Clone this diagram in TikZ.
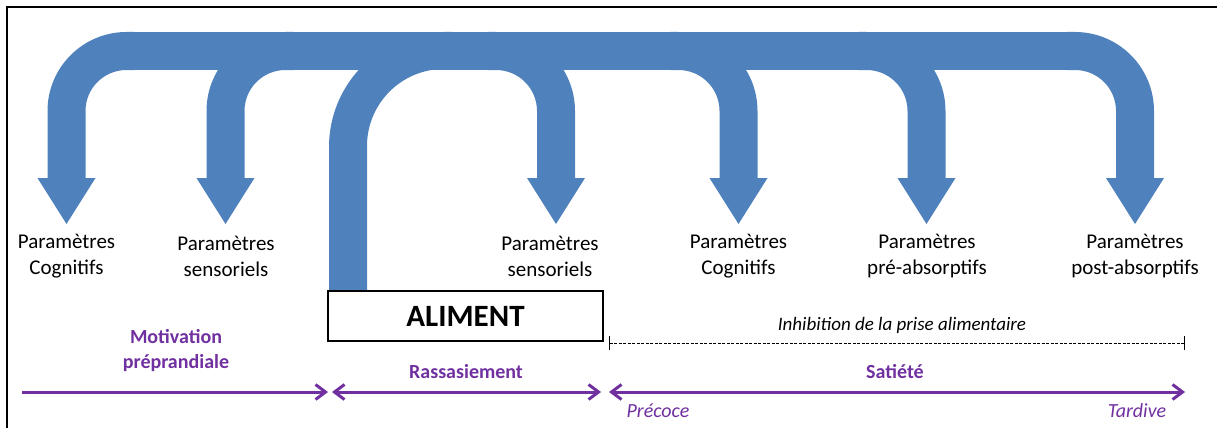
\documentclass[tikz,border=0pt]{standalone}
\usepackage{fontspec}
\setmainfont{Carlito}
\usetikzlibrary{arrows.meta}
\definecolor{flowblue}{RGB}{79,129,189}
\definecolor{phasepurple}{RGB}{112,48,160}
\tikzset{
        flow/.style={fill=flowblue},
        param/.style={align=center, inner sep=0pt, font=\fontsize{21}{26}\selectfont},
        food/.style={draw=black, line width=2.5pt, fill=white, minimum width=275pt, minimum height=50pt, inner sep=0pt, font=\fontsize{31}{36}\selectfont\bfseries},
        phase/.style={draw=phasepurple, line width=3pt, >={Straight Barb[length=10pt,width=15pt]}},
        phasename/.style={text=phasepurple, align=center, inner sep=0pt, font=\fontsize{20}{25}\selectfont\bfseries},
        phaseend/.style={text=phasepurple, inner sep=0pt, font=\fontsize{20}{24}\selectfont\itshape},
        inhibition/.style={line width=0.8pt, dash pattern=on 3pt off 1.5pt, {Bar[width=14pt,line width=1.2pt]}-{Bar[width=14pt,line width=1.2pt]}},
        note/.style={inner sep=0pt, font=\fontsize{19}{23}\selectfont\itshape},
        frame/.style={line width=2pt}
          }

\begin{document}
\begin{tikzpicture}[x=1pt,y=1pt]
  \useasboundingbox (0,0) rectangle (1217,-428);
  \draw[frame] (7,-428) -- (7,-7) -- (1217,-7);

  % loop arrows
  \fill[flow] (126.5,-32) rectangle (1075,-70);
  \foreach \cx in {66.5,225.5}{
    \fill[flow] ({\cx+68},-32) -- ({\cx+60},-32) arc[start angle=90,end angle=180,radius=79] -- ({\cx-19},-178) -- ({\cx-29},-178)
      -- (\cx,-224) -- ({\cx+29},-178) -- ({\cx+19},-178) -- ({\cx+19},-111)
      arc[start angle=180,end angle=90,radius=41] -- ({\cx+68},-70) -- cycle;
  }
  \foreach \cx in {556,738.5,926.5,1135}{
    \fill[flow] ({\cx-68},-32) -- ({\cx-60},-32) arc[start angle=90,end angle=0,radius=79] -- ({\cx+19},-178) -- ({\cx+29},-178)
      -- (\cx,-224) -- ({\cx-29},-178) -- ({\cx-19},-178) -- ({\cx-19},-111)
      arc[start angle=0,end angle=90,radius=41] -- ({\cx-68},-70) -- cycle;
  }
  \fill[flow] (452,-32) -- (444,-32) arc[start angle=90,end angle=180,radius=115] -- (329,-292) -- (367,-292) -- (367,-146)
    arc[start angle=180,end angle=90,radius=77] -- (452,-69) -- cycle;

  \node[food] (aliment) at (465.5,-316) {ALIMENT};

  % parametres
  \node[param] (cog1) at (66.5,-256) {Paramètres\\Cognitifs};
  \node[param] (sens1) at (226,-256) {Paramètres\\sensoriels};
  \node[param] (sens2) at (550,-256) {Paramètres\\sensoriels};
  \node[param] (cog2) at (738.5,-256) {Paramètres\\Cognitifs};
  \node[param] (pre) at (927,-256) {Paramètres\\pré-absorptifs};
  \node[param] (post) at (1135,-256) {Paramètres\\post-absorptifs};

  % phases
  \coordinate (motS) at (22,-392);
  \coordinate (motE) at (328,-392);
  \coordinate (rasS) at (332,-392);
  \coordinate (rasE) at (601,-392);
  \coordinate (satS) at (609,-392);
  \coordinate (satE) at (1185,-392);
  \coordinate (inhS) at (609,-343);
  \coordinate (inhE) at (1185,-343);
  \draw[phase,->] (motS) -- (motE);
  \draw[phase,<->] (rasS) -- (rasE);
  \draw[phase,<->] (satS) -- (satE);
  \draw[inhibition] (inhS) -- (inhE);

  \node[phasename] (motivation) at (176,-351) {Motivation\\préprandiale};
  \node[phasename] (rassasiement) at (466,-372) {Rassasiement};
  \node[phasename] (satiete) at (895,-372) {Satiété};
  \node[note] (inhib) at (902,-325) {Inhibition de la prise alimentaire};
  \node[phaseend] (precoce) at (658,-411) {Précoce};
  \node[phaseend] (tardive) at (1137,-411) {Tardive};
\end{tikzpicture}
\end{document}
